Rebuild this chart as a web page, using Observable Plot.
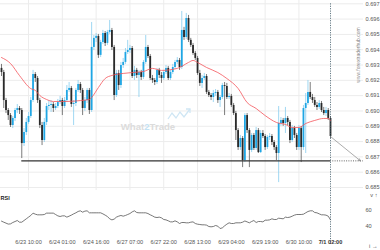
<!DOCTYPE html>
<html><head><meta charset="utf-8">
<script src="https://cdn.jsdelivr.net/npm/d3@7"></script>
<script src="https://cdn.jsdelivr.net/npm/@observablehq/plot@0.6"></script>
<style>
body{margin:0;background:#fff;}
#chart svg{display:block;}
</style></head><body><div id="chart"></div>
<script>
// ---- data (hourly candles, index 0..146) ----
const firstOpen = 0.69278;
const closes = [
0.69251,0.69068,0.69003,0.68970,0.68905,0.68951,0.69003,0.69016,0.69003,0.68787,
0.68859,0.68925,0.68964,0.69068,0.69238,0.69212,0.69068,0.68905,0.68807,0.68925,
0.69029,0.69036,0.69042,0.69016,0.69029,0.69055,0.69068,0.69029,0.69068,0.69134,
0.69147,0.69042,0.69049,0.69134,0.69173,0.69134,0.69016,0.69068,0.69134,0.69003,
0.69415,0.69474,0.69487,0.69363,0.69447,0.69506,0.69441,0.69513,0.69526,0.69415,
0.69101,0.69245,0.69166,0.69297,0.69317,0.69382,0.69395,0.69408,0.69225,0.69265,
0.69232,0.69251,0.69219,0.69317,0.69415,0.69356,0.69212,0.69199,0.69186,0.69265,
0.69232,0.69212,0.69251,0.69278,0.69212,0.69251,0.69284,0.69317,0.69330,0.69284,
0.69526,0.69480,0.69604,0.69461,0.69428,0.69376,0.69343,0.69245,0.69180,0.69212,
0.69225,0.69121,0.69101,0.69088,0.69114,0.69121,0.69068,0.69088,0.69166,0.69160,
0.69088,0.69095,0.69036,0.68983,0.68872,0.68761,0.68820,0.68676,0.68970,0.68872,
0.68742,0.68840,0.68755,0.68872,0.68728,0.68853,0.68833,0.68761,0.68827,0.68833,
0.68794,0.68761,0.68722,0.68918,0.68938,0.68918,0.68951,0.68925,0.68807,0.68885,
0.68840,0.68761,0.68885,0.68761,0.69016,0.69049,0.69121,0.69088,0.69068,0.69036,
0.69023,0.69049,0.69003,0.68983,0.69003,0.68951,0.68833];
const highs = [
0.69304,0.69265,0.69082,0.69016,0.68983,0.68964,0.69016,0.69042,0.69029,0.69016,
0.68885,0.68951,0.68990,0.69088,0.69265,0.69251,0.69225,0.69082,0.68925,0.68951,
0.69049,0.69068,0.69068,0.69055,0.69049,0.69075,0.69095,0.69082,0.69088,0.69166,
0.69186,0.69160,0.69068,0.69147,0.69199,0.69186,0.69147,0.69088,0.69147,0.69147,
0.69578,0.69493,0.69506,0.69500,0.69461,0.69526,0.69519,0.69526,0.69591,0.69539,
0.69428,0.69265,0.69265,0.69317,0.69343,0.69408,0.69461,0.69428,0.69421,0.69291,
0.69278,0.69265,0.69265,0.69330,0.69493,0.69428,0.69369,0.69232,0.69212,0.69278,
0.69278,0.69251,0.69265,0.69297,0.69291,0.69265,0.69304,0.69330,0.69349,0.69343,
0.69650,0.69546,0.69637,0.69624,0.69474,0.69441,0.69389,0.69356,0.69265,0.69232,
0.69245,0.69238,0.69134,0.69114,0.69134,0.69140,0.69134,0.69101,0.69180,0.69186,
0.69180,0.69114,0.69108,0.69049,0.68997,0.68885,0.68840,0.68833,0.68983,0.68983,
0.68885,0.68853,0.68853,0.68892,0.68885,0.68872,0.68872,0.68846,0.68840,0.68853,
0.68846,0.68807,0.68774,0.69029,0.68957,0.68951,0.69023,0.68964,0.68938,0.68905,
0.68899,0.68853,0.68905,0.68899,0.69036,0.69114,0.69199,0.69186,0.69108,0.69088,
0.69055,0.69068,0.69062,0.69023,0.69023,0.69016,0.68964];
const lows = [
0.69225,0.69016,0.68983,0.68938,0.68892,0.68885,0.68931,0.68983,0.68977,0.68689,
0.68768,0.68840,0.68912,0.68951,0.69055,0.69186,0.69049,0.68885,0.68774,0.68794,
0.68905,0.69003,0.68990,0.68990,0.69003,0.69016,0.69042,0.68970,0.69016,0.69055,
0.69121,0.69023,0.68905,0.69029,0.69121,0.69114,0.68970,0.68997,0.69049,0.68977,
0.68990,0.69395,0.69447,0.69343,0.69349,0.69434,0.69421,0.69428,0.69500,0.69395,
0.69068,0.69088,0.69134,0.69147,0.69278,0.69304,0.69369,0.69376,0.69212,0.69199,
0.69212,0.69088,0.69199,0.69206,0.69304,0.69343,0.69199,0.69180,0.69166,0.69173,
0.69212,0.69180,0.69199,0.69238,0.69199,0.69199,0.69238,0.69271,0.69304,0.69265,
0.69271,0.69461,0.69467,0.69447,0.69415,0.69363,0.69330,0.69232,0.69160,0.69147,
0.69199,0.69108,0.69088,0.69068,0.69055,0.69095,0.69049,0.69023,0.69075,0.68970,
0.69075,0.69075,0.69023,0.68970,0.68807,0.68742,0.68742,0.68630,0.68663,0.68853,
0.68630,0.68728,0.68742,0.68742,0.68722,0.68722,0.68820,0.68742,0.68748,0.68807,
0.68774,0.68742,0.68676,0.68532,0.68899,0.68899,0.68853,0.68905,0.68787,0.68794,
0.68820,0.68742,0.68742,0.68663,0.68742,0.68722,0.69036,0.69075,0.69049,0.69023,
0.69003,0.69010,0.68990,0.68970,0.68964,0.68938,0.68820];
const rsiValues = [
46.7,45.4,44.2,43,43.3,45,46.2,47.5,45.4,45.4,
47.5,49.6,51.7,53.8,56.7,55.4,54.6,54.6,54.6,55,
56.7,56.7,56.7,56.7,55,53.3,52.5,53.3,53.3,51.7,
52.9,54.2,55.8,57.1,58.8,59.6,57.9,59.2,59.6,57.1,
57.1,57.1,57.1,57.1,57.1,55.8,54.2,52.5,49.6,48.3,
49.2,51.7,52.9,53.8,52.9,53.8,55,56.2,58.3,59.6,
57.5,57.1,57.1,57.1,57.1,56.2,54.6,53.3,51.7,51.2,
51.7,50.8,48.75,48.3,47.1,45.8,45.8,47.1,45.8,43.75,
45,45,44.6,44.6,45.4,45.8,43.75,42.9,42.5,42.1,
42.1,41.7,40,39.6,40,41.25,40.4,37.5,38.3,40.8,
42.9,44.6,43.75,43.75,44.6,44.6,44.6,45.4,46.9,45.8,
44.6,46.25,47.5,45,46.25,46.25,45.8,47.9,47.9,48.3,
49.6,48.75,48.75,50.4,50,49.6,51.7,51.2,51.7,52.9,
54.2,55,55,55,55.4,57.1,58.75,59.6,59.6,57.5,
57.1,55.8,54.6,54.6,54.2,52.9,48.3];
const maIdx = [0,4,8,13,15,17,20,23,29,35,39,40,43,46,49,54,58,63,67,71,78,83,85,87,91,96,100,105,109,113,117,122,126,129,132,135,139,143,145,146];
const maValues = [0.69349,0.69310,0.69231,0.69146,0.69134,0.69101,0.69075,0.69062,0.69062,0.69068,0.69075,0.69088,0.69153,0.69212,0.69232,0.69245,0.69251,0.69258,0.69278,0.69265,0.69278,0.69317,0.69330,0.69317,0.69284,0.69251,0.69212,0.69147,0.69055,0.69016,0.68970,0.68925,0.68912,0.68892,0.68892,0.68918,0.68938,0.68951,0.68951,0.68938];
const supportLevel = 0.68674;
const supportStart = 9;
const nowIdx = 146;
const targetIdx = 159.3;
const priceTicks = [0.685,0.686,0.687,0.688,0.689,0.690,0.691,0.692,0.693,0.694,0.695,0.696,0.697];
const rsiTicks = [40,60];
const timeIdx = [12,27,42,57,72,87,102,117,132];
const timeLabels = ["6/23 10:00","6/24 01:00","6/24 16:00","6/27 07:00","6/27 22:00","6/28 13:00","6/29 04:00","6/29 19:00","6/30 10:00"];
const nowLabel = "7/1 02:00";

// ---- build ----
const candles = closes.map((c,i)=>{
  const open = i ? closes[i-1] : firstOpen;
  return {i, open, close:c, high:highs[i], low:lows[i], up: c > open};
});
const ma = maIdx.map((x,k)=>({x, v: maValues[k]}));
const rsi = rsiValues.map((v,i)=>({i, v}));
const font = "'Liberation Sans', Arial, sans-serif";
const xOpt = {domain:[0,146], range:[1,330], axis:null};

const main = Plot.plot({
  width:380, height:190, marginLeft:0, marginRight:17, marginTop:0, marginBottom:0,
  style:{fontFamily:font, fontSize:"5.6px", background:"transparent"},
  x: xOpt,
  y: {domain:[0.685,0.697], range:[187,3.3], axis:null},
  marks:[
    Plot.gridY(priceTicks, {stroke:"#ececec", strokeOpacity:1}),
    Plot.ruleX(timeIdx, {stroke:"#ececec"}),
    Plot.ruleX(candles, {x:"i", y1:"low", y2:"high", stroke:d=>d.up?"#86cdef":"#5a5a5a", strokeWidth:0.8}),
    Plot.ruleX(candles, {x:"i", y1:"open", y2:"close", stroke:d=>d.up?"#1fa6e4":"#2a2a2a", strokeWidth:1.8}),
    Plot.line(ma, {x:"x", y:"v", stroke:"#f4545a", strokeWidth:0.8, curve:"monotone-x"}),
    Plot.ruleY([supportLevel], {x1:supportStart, x2:nowIdx, stroke:"#333", strokeWidth:1.3}),
    Plot.ruleY([supportLevel], {x1:nowIdx, x2:160.6, stroke:"#555", strokeWidth:0.9, strokeDasharray:"1,1.3"}),
    Plot.ruleX([nowIdx], {y1:0.697, y2:0.6847, stroke:"#3c5866", strokeWidth:0.8, strokeDasharray:"1.2,1.2"}),
    Plot.arrow([{x1:nowIdx, y1:closes[closes.length-1], x2:targetIdx, y2:supportLevel}], {x1:"x1", y1:"y1", x2:"x2", y2:"y2", stroke:"#888", strokeWidth:0.7, headLength:5, headAngle:50}),
    Plot.axisY(priceTicks, {anchor:"right", tickSize:0, tickPadding:2, tickFormat:d=>d.toFixed(3), fill:"#555"})
  ]
});

const rsiPlot = Plot.plot({
  width:380, height:60, marginLeft:0, marginRight:17, marginTop:0, marginBottom:12,
  style:{fontFamily:font, fontSize:"5.6px", background:"transparent"},
  x: xOpt,
  y: {domain:[40,60], range:[36,20], axis:null},
  marks:[
    Plot.line(rsi, {x:"i", y:"v", stroke:"#555", strokeWidth:0.8}),
    Plot.ruleX([nowIdx], {y1:85, y2:16, stroke:"#3c5866", strokeWidth:0.8, strokeDasharray:"1.2,1.2"}),
    Plot.axisY(rsiTicks, {anchor:"right", tickSize:0, tickPadding:2, fill:"#555"}),
    Plot.axisX(timeIdx, {anchor:"bottom", tickSize:0, tickPadding:2, tickFormat:d=>timeLabels[timeIdx.indexOf(d)], fill:"#555"}),
    Plot.text([nowLabel], {x:nowIdx, frameAnchor:"bottom", lineAnchor:"top", dy:2, text:d=>d, fontWeight:"bold", fill:"#333"}),
    Plot.text(["RSI"], {frameAnchor:"top-left", lineAnchor:"top", dx:0, dy:5.5, text:d=>d, fontWeight:"bold", fontSize:5.5, fill:"#222"})
  ]
});

const root = document.getElementById("chart");
root.appendChild(main);
root.appendChild(rsiPlot);

// watermarks
const svg = d3.select(main);
const wm = svg.append("g").attr("pointer-events","none");
wm.append("polyline").attr("points","168,119 172,113 176,118 180,112 184,117 190,109")
  .attr("fill","none").attr("stroke","#cfe6f4").attr("stroke-width",1.3);
wm.append("polyline").attr("points","186,109 190,109 190,113")
  .attr("fill","none").attr("stroke","#cfe6f4").attr("stroke-width",1.3);
const t = wm.append("text").attr("x",148).attr("y",129.5)
  .style("font-family",font).style("font-size","9.6px").style("font-weight","bold");
t.append("tspan").attr("fill","#dcdcdc").text("What");
t.append("tspan").attr("fill","#c4e2f3").text("2");
t.append("tspan").attr("fill","#dcdcdc").text("Trade");
svg.append("text").attr("transform","translate(360,55) rotate(-90)")
  .style("font-family",font).style("font-size","5px").attr("fill","#888")
  .text("www.forextraderhub.com");
</script>
</body></html>
